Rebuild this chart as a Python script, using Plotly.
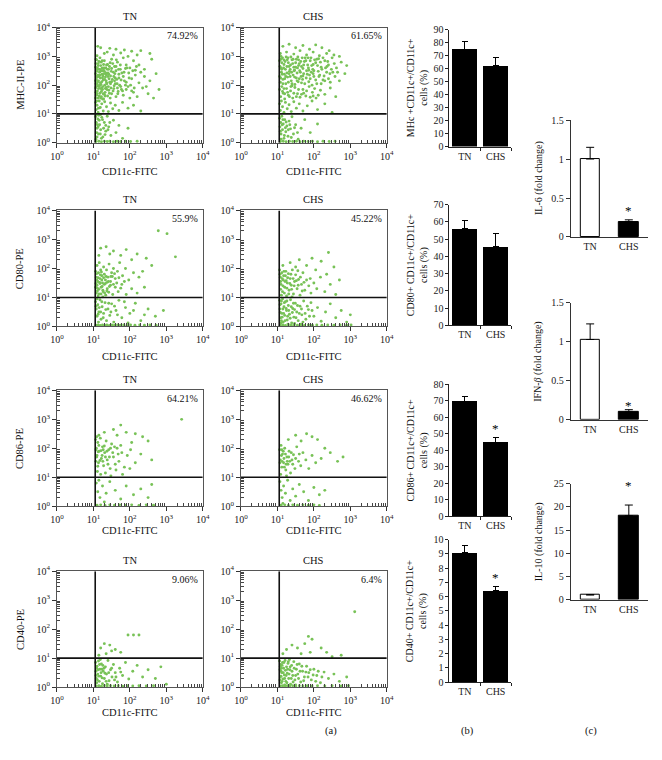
import math
import plotly.graph_objects as go

# ---------------- data ----------------
GROUPS = ["TN", "CHS"]
SC_Y_TITLES = ["MHC-II-PE", "CD80-PE", "CD86-PE", "CD40-PE"]
SC_X_TITLE = "CD11c-FITC"
PCT_TN = ["74.92%", "55.9%", "64.21%", "9.06%"]
PCT_CHS = ["61.65%", "45.22%", "46.62%", "6.4%"]
LOG_TICKS = [0, 1, 2, 3, 4]
LOG_TICKTEXT = ["10<sup>0</sup>", "10<sup>1</sup>", "10<sup>2</sup>", "10<sup>3</sup>", "10<sup>4</sup>"]
GATE_X = 1.05   # log10 units
GATE_Y = 1.0

# events (log10 CD11c-FITC, log10 marker-PE)
MHC_TN = [
    (1.12,3.35),(1.2,3.3),(1.45,3.28),(1.62,3.25),(1.85,3.22),(2.05,3.18),(2.3,3.2),(1.3,3.1),(1.55,3.05),(1.75,3.12),
    (1.95,3.0),(2.2,3.05),(2.55,3.1),(1.1,3.02),(1.38,3.15),
    (1.07,2.9),(1.13,2.75),(1.18,2.95),(1.24,2.6),(1.3,2.85),(1.36,2.7),(1.42,2.55),(1.5,2.9),(1.58,2.65),(1.66,2.8),
    (1.74,2.55),(1.82,2.95),(1.9,2.7),(2.0,2.6),(2.1,2.85),(2.25,2.7),(2.4,2.55),(2.6,2.9),(1.09,2.55),(1.2,2.68),
    (1.28,2.52),(1.46,2.78),(1.62,2.5),(1.88,2.58),(2.15,2.52),(1.15,2.82),
    (1.06,2.4),(1.08,2.2),(1.1,2.05),(1.12,2.35),(1.14,2.15),(1.17,2.45),(1.19,2.25),(1.21,2.02),(1.24,2.38),(1.27,2.18),
    (1.3,2.48),(1.33,2.28),(1.36,2.08),(1.4,2.42),(1.43,2.22),(1.47,2.32),(1.5,2.12),(1.55,2.45),(1.6,2.25),(1.65,2.05),
    (1.7,2.38),(1.76,2.18),(1.82,2.3),(1.9,2.1),(1.97,2.42),(2.05,2.22),(2.15,2.35),(2.25,2.08),(2.4,2.3),(2.55,2.15),
    (2.72,2.4),(2.8,1.85),(1.11,2.28),(1.23,2.12),(1.35,2.36),(1.58,2.15),
    (1.06,1.9),(1.09,1.65),(1.11,1.8),(1.13,1.55),(1.16,1.95),(1.18,1.72),(1.22,1.6),(1.25,1.85),(1.28,1.52),(1.32,1.75),
    (1.35,1.92),(1.39,1.62),(1.42,1.82),(1.46,1.55),(1.5,1.7),(1.56,1.88),(1.62,1.6),(1.68,1.78),(1.75,1.95),(1.82,1.65),
    (1.9,1.85),(2.0,1.55),(2.1,1.75),(2.2,1.6),(2.35,1.9),(2.5,1.7),(2.65,1.55),(1.07,1.75),(1.2,1.88),(1.3,1.68),
    (1.06,1.4),(1.08,1.15),(1.1,1.3),(1.13,1.05),(1.16,1.45),(1.19,1.22),(1.23,1.35),(1.27,1.1),(1.31,1.42),(1.36,1.25),
    (1.41,1.08),(1.47,1.38),(1.53,1.18),(1.6,1.3),(1.7,1.12),(1.8,1.4),(1.95,1.2),(2.1,1.3),(2.3,1.1),
    (1.06,0.9),(1.08,0.7),(1.1,0.5),(1.12,0.82),(1.14,0.3),(1.17,0.62),(1.2,0.45),(1.23,0.88),(1.26,0.2),(1.3,0.7),
    (1.34,0.4),(1.38,0.92),(1.42,0.55),(1.48,0.25),(1.55,0.78),(1.62,0.35),(1.7,0.6),(1.8,0.15),(1.95,0.5),(1.07,0.12),
    (1.07,0.04),(1.15,0.05),(1.22,0.03),(1.3,0.05),(1.38,0.04),(1.45,0.05),(1.55,0.03),(1.65,0.05),(1.75,0.04),(1.88,0.05),
    (2.02,0.04),(2.2,0.05),
    (1.06,2.62),(1.07,2.05),(1.09,2.88),(1.1,2.48),(1.12,1.98),(1.13,2.68),(1.15,2.3),(1.16,1.62),(1.18,2.55),(1.19,2.08),
    (1.21,2.8),(1.22,1.78),(1.24,2.5),(1.25,2.25),(1.26,1.95),(1.28,2.72),(1.29,2.4),(1.31,2.0),(1.32,1.62),(1.34,2.6),
    (1.35,2.15),(1.37,1.85),(1.38,2.55),(1.4,2.3),(1.41,1.95),(1.44,2.65),(1.45,2.1),(1.48,1.9),(1.49,2.48),(1.52,2.2),
    (1.53,2.75),(1.57,1.98),(1.59,2.4),(1.63,2.88),(1.64,2.2),(1.67,1.7),(1.69,2.55),(1.72,2.0),(1.78,2.42),(1.8,1.8),
    (1.85,2.15),(1.92,2.6),(1.95,1.95),(2.02,2.0),(2.08,2.5),(2.12,1.9),(2.18,2.65),(2.3,2.45),(2.45,1.95),(1.09,1.45),
    (1.14,1.2),(1.2,0.98),(1.25,1.52),(1.34,0.6),(1.09,0.35),(1.16,0.78),(1.22,0.15),(1.28,0.5),(1.11,0.62),(1.45,0.7),
    (1.06,2.15),(1.06,1.55),(1.07,2.75),(1.08,1.95),(1.09,2.3),(1.1,1.7),(1.11,2.6),(1.12,2.12),(1.14,1.88),(1.15,2.55),
    (1.17,2.0),(1.18,2.35),(1.2,1.55),(1.21,2.5),(1.23,1.9),(1.24,2.85),(1.26,2.32),(1.27,1.7),(1.29,2.6),(1.31,2.2),
    (1.33,1.88),(1.34,2.42),(1.37,2.05),(1.39,2.72),(1.42,2.38),(1.44,1.72),(1.47,2.05),(1.5,2.58),(1.54,1.8),(1.56,2.3),
    (1.6,2.05),(1.62,2.65),(1.66,1.9),(1.7,2.25),(1.74,2.7),(1.77,1.85),(1.84,2.45),(1.88,2.0),(1.98,2.25),(2.05,1.8),
    (1.08,0.95),(1.1,0.2),(1.13,0.55),(1.15,0.95),(1.19,0.3),(1.25,0.8),(1.32,0.28),(1.4,0.45),
]
MHC_CHS = [
    (1.15,3.35),(1.32,3.42),(1.5,3.3),(1.7,3.38),(1.88,3.25),(2.05,3.4),(2.22,3.3),(2.42,3.2),(1.25,3.15),(1.45,3.08),
    (1.62,3.2),(1.8,3.05),(1.98,3.15),(2.15,3.02),(2.35,3.1),(2.55,3.05),(1.08,3.1),(2.7,3.0),
    (1.06,2.85),(1.1,2.6),(1.14,2.95),(1.18,2.72),(1.22,2.55),(1.27,2.88),(1.32,2.65),(1.37,2.98),(1.42,2.75),(1.47,2.52),
    (1.52,2.9),(1.58,2.68),(1.64,2.82),(1.7,2.58),(1.76,2.95),(1.83,2.7),(1.9,2.85),(1.97,2.55),(2.05,2.78),(2.13,2.92),
    (2.2,2.62),(2.3,2.85),(2.4,2.7),(2.5,2.95),(2.62,2.6),(2.75,2.8),(2.9,2.68),(1.12,2.78),(1.55,2.6),(1.86,2.52),
    (1.06,2.3),(1.08,2.1),(1.11,2.45),(1.15,2.2),(1.19,2.38),(1.23,2.05),(1.28,2.28),(1.33,2.48),(1.38,2.15),(1.43,2.35),
    (1.48,2.02),(1.54,2.42),(1.6,2.22),(1.66,2.08),(1.72,2.4),(1.79,2.25),(1.86,2.12),(1.93,2.45),(2.0,2.3),(2.08,2.05),
    (2.16,2.35),(2.25,2.18),(2.35,2.45),(2.45,2.1),(2.58,2.3),(2.7,2.15),(2.85,2.4),(1.3,2.1),(1.65,2.3),(1.95,2.0),
    (1.06,1.85),(1.09,1.6),(1.12,1.95),(1.16,1.72),(1.2,1.52),(1.25,1.88),(1.3,1.65),(1.36,1.8),(1.42,1.55),(1.48,1.92),
    (1.55,1.7),(1.62,1.58),(1.7,1.85),(1.78,1.62),(1.87,1.95),(1.96,1.75),(2.06,1.55),(2.18,1.82),(2.3,1.68),(2.45,1.9),
    (2.6,1.6),(1.14,1.78),(1.4,1.98),
    (1.06,1.35),(1.08,1.12),(1.11,1.45),(1.14,1.25),(1.18,1.05),(1.22,1.4),(1.27,1.18),(1.32,1.32),(1.38,1.08),(1.45,1.42),
    (1.52,1.2),(1.6,1.35),(1.7,1.1),(1.82,1.28),(1.95,1.45),(2.1,1.15),(2.3,1.35),(2.5,1.05),
    (1.06,0.85),(1.07,0.55),(1.09,0.7),(1.1,0.3),(1.12,0.92),(1.14,0.45),(1.16,0.65),(1.18,0.15),(1.2,0.8),(1.23,0.38),
    (1.26,0.58),(1.29,0.22),(1.32,0.75),(1.36,0.48),(1.4,0.9),(1.44,0.3),(1.5,0.62),(1.57,0.12),(1.65,0.5),(1.75,0.8),
    (1.9,0.35),(2.1,0.65),
    (1.08,0.04),(1.16,0.05),(1.24,0.03),(1.33,0.05),(1.42,0.04),(1.52,0.05),(1.62,0.03),(1.72,0.05),(1.84,0.04),(1.96,0.05),
    (2.1,0.03),(2.25,0.05),(2.42,0.04),(2.58,0.05),
    (1.1,3.0),(1.18,2.88),(1.24,2.98),(1.3,2.78),(1.35,2.55),(1.4,2.88),(1.45,2.62),(1.5,2.78),(1.56,2.98),(1.6,2.75),
    (1.68,2.95),(1.72,2.7),(1.78,2.85),(1.85,2.6),(1.92,2.95),(1.98,2.72),(2.02,2.88),(2.1,2.68),(2.18,2.8),(2.25,2.95),
    (2.32,2.6),(2.38,2.82),(2.48,2.55),(1.13,2.38),(1.2,2.22),(1.26,2.42),(1.35,2.3),(1.4,2.05),(1.46,2.5),(1.52,2.25),
    (1.57,2.12),(1.63,2.45),(1.69,2.2),(1.75,2.05),(1.82,2.38),(1.9,2.22),(1.98,2.4),(2.05,2.18),(2.12,2.48),(2.2,2.05),
    (2.28,2.32),(2.4,2.22),(2.52,2.45),(1.18,1.88),(1.28,1.75),(1.33,1.6),(1.45,1.72),(1.58,1.85),(1.66,1.68),(1.8,1.8),
    (1.9,1.58),(2.02,1.88),(2.12,1.65),(1.08,0.4),(1.13,0.62),(1.19,0.25),(1.24,0.72),(1.3,0.45),(1.38,0.18),(1.47,0.52),
    (1.07,2.65),(1.09,2.25),(1.1,2.9),(1.12,2.55),(1.15,2.05),(1.17,2.6),(1.21,2.82),(1.23,2.3),(1.26,2.65),(1.29,2.95),
    (1.32,2.4),(1.36,2.7),(1.39,2.45),(1.43,2.9),(1.47,2.28),(1.5,2.62),(1.54,2.15),(1.58,2.88),(1.61,2.5),(1.66,2.65),
    (1.7,2.32),(1.74,2.82),(1.8,2.5),(1.84,2.95),(1.88,2.35),(1.94,2.68),(2.0,2.5),(2.08,2.9),(2.14,2.3),(2.22,2.55),
    (2.3,2.15),(2.36,2.65),(2.44,2.4),(2.56,2.75),(2.65,2.45),(1.2,1.7),(1.37,1.95),(1.52,1.6),(1.72,1.72),(1.98,1.62),
    (1.1,0.12),(1.15,0.8),(1.22,0.52),(1.34,0.62),(1.55,0.35),
]
CD80_TN = [
    (2.78,3.3),(3.02,3.2),(3.25,2.4),(1.2,2.7),(1.35,2.75),(1.55,2.6),(1.9,2.65),(2.2,2.5),(2.45,2.35),(1.75,2.45),
    (2.05,2.3),(1.45,2.5),(2.6,2.1),(2.35,1.9),(1.15,2.45),
    (1.06,1.9),(1.08,1.7),(1.1,2.1),(1.12,1.55),(1.14,1.85),(1.16,2.2),(1.18,1.65),(1.2,1.95),(1.23,1.75),(1.25,1.5),
    (1.28,2.05),(1.3,1.8),(1.33,1.6),(1.36,1.95),(1.4,1.7),(1.43,2.15),(1.47,1.55),(1.5,1.85),(1.55,2.0),(1.6,1.65),
    (1.66,1.9),(1.72,2.2),(1.8,1.75),(1.88,2.0),(1.97,1.6),(2.1,1.85),(2.25,1.7),(1.09,1.6),(1.22,1.88),(1.38,1.52),
    (1.52,1.72),
    (1.06,1.35),(1.08,1.15),(1.1,1.42),(1.13,1.05),(1.15,1.28),(1.18,1.48),(1.21,1.12),(1.24,1.38),(1.27,1.2),(1.3,1.45),
    (1.34,1.08),(1.38,1.3),(1.42,1.18),(1.47,1.42),(1.53,1.1),(1.6,1.35),(1.68,1.2),(1.78,1.45),(1.9,1.1),(2.05,1.3),
    (2.2,1.15),(2.4,1.35),(1.11,1.22),(1.26,1.02),
    (1.06,0.85),(1.08,0.6),(1.1,0.35),(1.12,0.75),(1.15,0.5),(1.18,0.92),(1.21,0.25),(1.24,0.68),(1.28,0.45),(1.32,0.82),
    (1.36,0.2),(1.4,0.6),(1.45,0.38),(1.5,0.78),(1.56,0.15),(1.62,0.55),(1.7,0.9),(1.78,0.3),(1.88,0.65),(2.0,0.45),
    (2.15,0.8),(2.3,0.2),(2.5,0.6),(2.7,0.35),(2.92,0.55),(1.95,0.12),(1.14,0.15),
    (1.07,0.04),(1.13,0.05),(1.19,0.03),(1.25,0.05),(1.31,0.04),(1.37,0.05),(1.44,0.03),(1.51,0.05),(1.58,0.04),(1.66,0.05),
    (1.74,0.04),(1.83,0.05),(1.92,0.03),(2.02,0.05),(2.14,0.04),(2.27,0.05),(2.4,0.04),(2.55,0.05),(2.72,0.04),
    (1.07,1.48),(1.09,1.82),(1.11,1.32),(1.13,1.68),(1.15,1.12),(1.17,1.52),(1.19,1.78),(1.21,1.35),(1.23,1.6),(1.26,1.25),
    (1.28,1.68),(1.31,1.15),(1.33,1.48),(1.35,1.72),(1.37,1.22),(1.41,1.55),(1.44,1.38),(1.48,1.72),(1.55,1.45),(1.58,1.82),
    (1.64,1.5),(1.7,1.68),(1.75,1.32),(1.85,1.55),(1.07,0.7),(1.1,0.95),(1.13,0.42),(1.16,0.65),(1.2,0.5),(1.23,0.85),
    (1.27,0.3),(1.34,0.58),(1.42,0.8),(1.48,0.5),(1.58,0.7),(1.66,0.4),(1.85,0.85),(2.1,0.55),(2.4,0.4),
]
CD80_CHS = [
    (2.4,2.55),(1.95,2.35),(2.2,2.25),(1.6,2.3),(1.35,2.2),(2.55,2.05),(1.8,2.1),(2.05,1.95),(2.35,1.8),(1.15,2.1),
    (2.7,1.6),(1.5,2.05),
    (1.06,1.95),(1.08,1.7),(1.1,1.45),(1.12,1.85),(1.14,1.2),(1.16,1.6),(1.18,1.9),(1.2,1.35),(1.22,1.75),(1.25,1.05),
    (1.27,1.5),(1.3,1.82),(1.32,1.25),(1.35,1.65),(1.38,1.42),(1.41,1.95),(1.44,1.12),(1.47,1.55),(1.5,1.78),(1.54,1.3),
    (1.58,1.62),(1.62,1.08),(1.66,1.45),(1.7,1.85),(1.75,1.25),(1.8,1.6),(1.86,1.4),(1.92,1.15),(2.0,1.5),(2.08,1.3),
    (2.18,1.7),(2.3,1.2),(2.45,1.45),(2.6,1.1),(1.09,1.28),(1.24,1.58),(1.4,1.02),(1.56,1.92),
    (1.06,0.9),(1.07,0.6),(1.09,0.3),(1.1,0.78),(1.12,0.45),(1.14,0.95),(1.16,0.15),(1.18,0.68),(1.2,0.38),(1.22,0.85),
    (1.25,0.55),(1.27,0.22),(1.3,0.72),(1.33,0.42),(1.36,0.92),(1.39,0.12),(1.42,0.62),(1.45,0.32),(1.49,0.8),(1.53,0.5),
    (1.57,0.2),(1.62,0.7),(1.67,0.4),(1.72,0.88),(1.78,0.25),(1.85,0.58),(1.92,0.82),(2.0,0.35),(2.1,0.65),(2.2,0.18),
    (2.32,0.5),(2.45,0.78),(2.6,0.3),(2.75,0.55),(2.9,0.15),(3.0,0.4),(1.11,0.2),(1.29,0.08),(1.47,0.1),(1.65,0.08),
    (1.08,0.04),(1.15,0.05),(1.22,0.03),(1.3,0.05),(1.38,0.04),(1.46,0.05),(1.55,0.04),(1.64,0.05),(1.74,0.03),(1.85,0.05),
    (1.96,0.04),(2.08,0.05),(2.22,0.04),(2.38,0.05),(2.55,0.04),(2.72,0.05),(2.9,0.04),(3.02,0.05),
    (1.07,1.8),(1.09,1.55),(1.11,1.08),(1.13,1.65),(1.15,1.4),(1.17,1.75),(1.19,1.15),(1.21,1.55),(1.23,1.9),(1.26,1.32),
    (1.28,1.68),(1.31,1.12),(1.34,1.48),(1.37,1.8),(1.39,1.28),(1.43,1.65),(1.46,1.4),(1.52,1.58),(1.57,1.42),(1.63,1.7),
    (1.68,1.22),(1.73,1.52),(1.9,1.65),(1.07,0.75),(1.08,0.48),(1.1,0.12),(1.11,0.88),(1.13,0.32),(1.15,0.6),(1.17,0.45),
    (1.19,0.82),(1.21,0.2),(1.24,0.62),(1.26,0.88),(1.28,0.35),(1.31,0.55),(1.35,0.28),(1.38,0.68),(1.41,0.48),(1.44,0.8),
    (1.47,0.58),(1.51,0.3),(1.55,0.72),(1.6,0.45),(1.66,0.6),(1.7,0.15),(1.76,0.45),(1.82,0.7),(1.88,0.35),(1.95,0.55),
]
CD86_TN = [
    (3.42,3.0),(1.75,2.8),(1.55,2.65),(1.9,2.55),(2.15,2.5),(2.35,2.4),(2.5,2.25),(2.6,1.6),(1.3,2.55),(1.15,2.45),
    (1.65,2.45),(2.05,2.2),
    (1.06,2.3),(1.08,2.0),(1.1,1.75),(1.12,2.2),(1.14,1.5),(1.16,1.9),(1.19,2.35),(1.22,1.65),(1.25,2.05),(1.28,1.4),
    (1.31,1.85),(1.35,2.25),(1.38,1.6),(1.42,1.95),(1.46,1.3),(1.5,2.15),(1.55,1.7),(1.6,1.45),(1.65,2.0),(1.7,1.55),
    (1.78,1.85),(1.85,1.35),(1.93,1.75),(2.02,1.95),(2.15,1.5),(2.3,1.8),(1.07,1.55),(1.11,1.2),(1.2,1.1),(1.33,1.15),
    (1.48,1.05),(1.62,1.25),(1.8,1.1),(2.0,1.3),(1.09,2.4),(1.27,1.95),(1.4,1.45),
    (1.08,0.8),(1.12,0.5),(1.18,0.3),(1.25,0.7),(1.35,0.45),(1.45,0.85),(1.6,0.55),(1.75,0.25),(1.9,0.7),(2.1,0.4),
    (2.3,0.6),(2.5,0.3),(2.6,0.75),(1.15,0.9),(1.3,0.15),
    (1.1,0.04),(1.2,0.05),(1.32,0.03),(1.45,0.05),(1.58,0.04),(1.72,0.05),(1.88,0.04),(2.05,0.05),(2.25,0.03),(2.45,0.05),
    (2.65,0.04),
    (1.07,1.95),(1.09,1.7),(1.13,1.88),(1.15,2.1),(1.18,1.58),(1.21,1.92),(1.24,1.75),(1.3,2.08),(1.33,1.7),(1.37,1.9),
    (1.44,1.7),(1.47,2.0),(1.53,1.85),(1.58,2.05),(1.68,1.8),(1.75,2.1),(1.12,1.38),(1.26,1.55),
]
CD86_CHS = [
    (1.8,2.5),(1.95,2.4),(2.1,2.3),(1.5,2.45),(1.3,2.3),(2.3,2.0),(2.45,1.85),(2.8,1.7),(2.65,1.55),(2.2,1.65),
    (1.65,2.25),
    (1.06,1.95),(1.08,1.6),(1.1,2.1),(1.12,1.35),(1.14,1.8),(1.17,1.5),(1.2,2.0),(1.23,1.25),(1.26,1.7),(1.29,1.45),
    (1.32,1.9),(1.36,1.15),(1.4,1.6),(1.44,1.78),(1.48,1.3),(1.53,2.05),(1.58,1.55),(1.64,1.4),(1.7,1.85),(1.78,1.6),
    (1.86,1.3),(1.95,1.75),(2.05,1.5),(1.09,1.1),(1.18,1.65),(1.34,1.55),(1.25,1.05),
    (1.07,0.85),(1.1,0.55),(1.13,0.3),(1.17,0.7),(1.22,0.45),(1.28,0.9),(1.35,0.2),(1.42,0.6),(1.5,0.35),(1.6,0.75),
    (1.72,0.5),(1.85,0.2),(2.0,0.65),(2.15,0.4),(2.3,0.55),(1.15,0.1),
    (1.1,0.04),(1.2,0.05),(1.3,0.03),(1.42,0.05),(1.55,0.04),(1.7,0.05),(1.85,0.04),(2.0,0.05),(2.15,0.03),
    (1.07,1.5),(1.11,1.75),(1.13,1.55),(1.16,1.9),(1.19,1.35),(1.22,1.8),(1.27,1.55),(1.31,1.7),(1.38,1.85),(1.42,1.45),
    (1.5,1.65),(1.6,1.8),(1.12,1.95),(1.24,1.45),
]
CD40_TN = [
    (1.95,1.8),(2.1,1.8),(2.25,1.8),(1.3,1.5),(1.45,1.45),(1.2,1.35),(1.6,1.3),(1.75,1.2),(1.35,1.15),(1.15,1.1),
    (1.5,1.25),
    (1.06,0.85),(1.07,0.55),(1.08,0.3),(1.1,0.72),(1.12,0.45),(1.14,0.9),(1.16,0.2),(1.18,0.62),(1.2,0.38),(1.22,0.8),
    (1.25,0.12),(1.27,0.55),(1.3,0.3),(1.33,0.7),(1.36,0.45),(1.4,0.92),(1.43,0.22),(1.47,0.6),(1.51,0.35),(1.55,0.78),
    (1.6,0.5),(1.66,0.18),(1.72,0.65),(1.8,0.4),(1.88,0.85),(1.97,0.28),(2.08,0.55),(2.2,0.75),(2.35,0.35),(2.5,0.6),
    (2.7,0.3),(2.85,0.7),(3.0,0.1),(1.09,0.15),(1.19,0.95),(1.29,0.65),(1.38,0.1),(1.58,0.25),
    (1.08,0.04),(1.15,0.05),(1.22,0.03),(1.3,0.05),(1.38,0.04),(1.47,0.05),(1.57,0.04),(1.68,0.05),(1.8,0.03),(1.93,0.05),
    (2.08,0.04),(2.25,0.05),(2.45,0.04),(2.65,0.05),
    (1.07,0.4),(1.09,0.65),(1.11,0.25),(1.13,0.6),(1.15,0.38),(1.17,0.78),(1.21,0.5),(1.24,0.32),(1.26,0.75),(1.32,0.48),
    (1.35,0.2),(1.42,0.5),(1.5,0.65),(1.62,0.35),(1.75,0.52),(1.23,0.62),
]
CD40_CHS = [
    (3.12,2.6),(1.85,1.75),(1.95,1.65),(1.75,1.5),(1.4,1.45),(1.55,1.35),(1.25,1.3),(2.2,1.35),(2.35,1.2),(1.65,1.15),
    (1.9,1.2),(2.5,1.05),(2.75,1.1),(1.15,1.15),
    (1.06,0.9),(1.07,0.6),(1.08,0.35),(1.09,0.78),(1.11,0.15),(1.12,0.5),(1.14,0.85),(1.15,0.28),(1.17,0.65),(1.19,0.42),
    (1.21,0.92),(1.23,0.2),(1.25,0.7),(1.27,0.48),(1.29,0.82),(1.31,0.3),(1.34,0.6),(1.36,0.1),(1.39,0.75),(1.42,0.4),
    (1.45,0.88),(1.48,0.25),(1.52,0.62),(1.56,0.45),(1.6,0.8),(1.64,0.18),(1.69,0.55),(1.74,0.35),(1.8,0.72),(1.86,0.5),
    (1.93,0.25),(2.0,0.62),(2.08,0.4),(2.18,0.15),(2.28,0.52),(2.4,0.3),(2.55,0.45),(2.7,0.2),(2.9,0.35),(1.1,0.55),
    (1.2,0.08),(1.33,0.95),(1.5,0.08),
    (1.08,0.04),(1.14,0.05),(1.2,0.03),(1.27,0.05),(1.34,0.04),(1.42,0.05),(1.5,0.03),(1.6,0.05),(1.7,0.04),(1.82,0.05),
    (1.95,0.04),(2.1,0.05),(2.3,0.04),(2.5,0.05),(2.75,0.04),(2.95,0.05),
    (1.07,0.25),(1.08,0.72),(1.1,0.38),(1.11,0.65),(1.13,0.2),(1.13,0.75),(1.16,0.5),(1.18,0.85),(1.2,0.3),(1.22,0.58),
    (1.24,0.4),(1.26,0.15),(1.28,0.62),(1.3,0.88),(1.32,0.45),(1.35,0.7),(1.38,0.3),(1.4,0.55),(1.43,0.18),(1.46,0.65),
    (1.5,0.4),(1.54,0.78),(1.58,0.3),(1.62,0.55),(1.67,0.72),(1.72,0.22),(1.78,0.52),(1.84,0.35),(1.9,0.6),(1.98,0.42),
    (2.05,0.2),(2.12,0.55),(2.22,0.35),
]
SC_DATA = [(MHC_TN, MHC_CHS), (CD80_TN, CD80_CHS), (CD86_TN, CD86_CHS), (CD40_TN, CD40_CHS)]

# (b) percentage of double-positive cells
B_TITLES = ["MHc +CD11c+/CD11c+<br>cells (%)", "CD80+ CD11c+/CD11c+<br>cells (%)",
            "CD86+ CD11c+/CD11c+<br>cells (%)", "CD40+ CD11c+/CD11c+<br>cells (%)"]
B_TN = [75.0, 56.0, 69.5, 9.1]
B_CHS = [62.0, 45.5, 44.5, 6.45]
B_ERR_TN = [5.5, 5.0, 3.0, 0.5]
B_ERR_CHS = [6.5, 7.5, 3.0, 0.25]
B_SIG = [False, False, True, True]
B_YMAX = [90, 70, 80, 10]
B_DTICK = [10, 10, 10, 1]

# (c) cytokine fold change
C_TITLES = ["IL-6 (fold change)", "IFN-<i>β</i> (fold change)", "IL-10 (fold change)"]
C_TN = [1.0, 1.03, 1.0]
C_CHS = [0.19, 0.1, 18.1]
C_ERR_TN = [0.15, 0.2, 0.1]
C_ERR_CHS = [0.03, 0.03, 2.3]
C_YMAX = [1.5, 1.5, 25]
C_DTICK = [0.5, 0.5, 5]

PANEL_LABELS = ["(a)", "(b)", "(c)"]

# ---------------- layout geometry (pixels) ----------------
W, H = 662, 760
FONT = "Liberation Serif, Times New Roman, serif"
DOT = "#78c257"
SC_COLS = [(51, 200), (239, 388)]
SC_ROWS = [(21, 138), (207, 325), (390, 508), (574, 692)]
SC_XT_OFF = [29, 31, 25, 26]
B_COL = (452, 515)
B_ROWS = [(23, 142), (201, 324), (384, 518), (542, 687)]
C_COL = (576, 655)
C_ROWS = [(115, 234), (301, 420), (485, 603)]
C_STAR_SHIFT = [0, -5, 10]


def fx(p):
    return p / W


def fy(p):
    return 1 - p / H


fig = go.Figure()
layout = {}
annotations = []
shapes = []
counter = [0]

minor_log = [d + math.log10(k) for d in range(4) for k in range(2, 10)]
tickfont = dict(family=FONT, size=10, color="#222")


def new_axes(xpx, ypx, xcfg, ycfg):
    counter[0] += 1
    i = counter[0]
    s = "" if i == 1 else str(i)
    layout["xaxis" + s] = dict(domain=[fx(xpx[0]), fx(xpx[1])], anchor="y" + s, **xcfg)
    layout["yaxis" + s] = dict(domain=[fy(ypx[1]), fy(ypx[0])], anchor="x" + s, **ycfg)
    return "x" + s, "y" + s


def ann(text, x, y, size=10.5, angle=0, xanchor="center", yanchor="middle", **kw):
    annotations.append(dict(text=text, x=x, y=y, xref="paper", yref="paper", showarrow=False,
                            textangle=angle, xanchor=xanchor, yanchor=yanchor,
                            font=dict(family=FONT, size=size, color="#111"), **kw))


log_axis = dict(range=[0, 4], tickmode="array", tickvals=LOG_TICKS, ticktext=LOG_TICKTEXT,
                ticks="outside", ticklen=4, tickcolor="#333", showline=True, linecolor="#555",
                linewidth=1, mirror=True, showgrid=False, zeroline=False, tickfont=tickfont,
                minor=dict(tickmode="array", tickvals=minor_log, ticks="inside", ticklen=3,
                           tickcolor="#444", showgrid=False))

# ---- (a) dot plots ----
for r, (top, bot) in enumerate(SC_ROWS):
    for c, (left, right) in enumerate(SC_COLS):
        pts = SC_DATA[r][c]
        xa, ya = new_axes((left, right), (top, bot), dict(log_axis), dict(log_axis))
        fig.add_trace(go.Scatter(x=[p[0] for p in pts], y=[p[1] for p in pts], mode="markers",
                                 marker=dict(size=2.9, color=DOT, line=dict(width=0)),
                                 xaxis=xa, yaxis=ya, showlegend=False, cliponaxis=False,
                                 hoverinfo="skip"))
        shapes.append(dict(type="line", xref=xa, yref=ya, x0=GATE_X, x1=GATE_X, y0=0, y1=4,
                           line=dict(color="#111", width=1.6)))
        shapes.append(dict(type="line", xref=xa, yref=ya, x0=0, x1=4, y0=GATE_Y, y1=GATE_Y,
                           line=dict(color="#111", width=1.6)))
        ann(GROUPS[c], fx((left + right) / 2), fy(top - 11))
        pct = PCT_TN[r] if c == 0 else PCT_CHS[r]
        ann(pct, fx(right - 3), fy(top + 8), size=10, xanchor="right")
        ann(SC_X_TITLE, fx((left + right) / 2), fy(bot + SC_XT_OFF[r]))
    ann(SC_Y_TITLES[r], fx(13), fy((top + bot) / 2), angle=-90)

# ---- (b) bar charts ----
for r, (top, bot) in enumerate(B_ROWS):
    xa, ya = new_axes(B_COL, (top, bot),
                      dict(range=[-0.5, 1.5], tickmode="array", tickvals=[0, 1], ticktext=GROUPS,
                           ticks="", showline=True, linecolor="#222", linewidth=1, showgrid=False,
                           zeroline=False, tickfont=tickfont,
                           minor=dict(tickmode="array", tickvals=[0.5, 1.5], ticks="outside",
                                      ticklen=3, tickcolor="#222")),
                      dict(range=[0, B_YMAX[r]], dtick=B_DTICK[r], ticks="outside", ticklen=3,
                           tickcolor="#222", showline=True, linecolor="#222", linewidth=1,
                           showgrid=False, zeroline=False, tickfont=tickfont))
    fig.add_trace(go.Bar(x=[0, 1], y=[B_TN[r], B_CHS[r]], width=0.82,
                         marker=dict(color="#000", line=dict(width=0)),
                         error_y=dict(type="data", symmetric=False, array=[B_ERR_TN[r], B_ERR_CHS[r]],
                                      arrayminus=[0, 0], color="#000", thickness=1, width=3),
                         xaxis=xa, yaxis=ya, showlegend=False, hoverinfo="skip"))
    if B_SIG[r]:
        annotations.append(dict(text="*", x=1, y=B_CHS[r] + B_ERR_CHS[r], xref=xa, yref=ya,
                                showarrow=False, yanchor="bottom", yshift=0,
                                font=dict(family=FONT, size=13, color="#000")))
    ann(B_TITLES[r], fx(419), fy((top + bot) / 2), size=10, angle=-90)

# ---- (c) cytokines ----
for r, (top, bot) in enumerate(C_ROWS):
    xa, ya = new_axes(C_COL, (top, bot),
                      dict(range=[-0.5, 1.5], tickmode="array", tickvals=[0, 1], ticktext=GROUPS,
                           ticks="", showline=True, linecolor="#333", linewidth=1.3, showgrid=False,
                           zeroline=False, tickfont=tickfont),
                      dict(range=[0, C_YMAX[r]], dtick=C_DTICK[r], ticks="outside", ticklen=4,
                           tickcolor="#333", showline=True, linecolor="#333", linewidth=1.3,
                           showgrid=False, zeroline=False, tickfont=tickfont))
    fig.add_trace(go.Bar(x=[0, 1], y=[C_TN[r], C_CHS[r]], width=0.5,
                         marker=dict(color=["#fff", "#000"], line=dict(color="#000", width=1)),
                         error_y=dict(type="data", symmetric=False, array=[C_ERR_TN[r], C_ERR_CHS[r]],
                                      arrayminus=[0, 0], color="#000", thickness=1, width=4),
                         xaxis=xa, yaxis=ya, showlegend=False, hoverinfo="skip"))
    annotations.append(dict(text="*", x=1, y=C_CHS[r] + C_ERR_CHS[r], xref=xa, yref=ya,
                            showarrow=False, yanchor="bottom", yshift=C_STAR_SHIFT[r],
                            font=dict(family=FONT, size=13, color="#000")))
    ann(C_TITLES[r], fx(543), fy((top + bot) / 2), size=10, angle=-90)

# ---- panel labels ----
for lab, xp in zip(PANEL_LABELS, [331, 470, 597]):
    ann(lab, fx(xp), fy(737), size=10.5)

fig.update_layout(width=W, height=H, margin=dict(l=0, r=0, t=0, b=0),
                  paper_bgcolor="#fff", plot_bgcolor="#fff", showlegend=False,
                  bargap=0, annotations=annotations, shapes=shapes,
                  font=dict(family=FONT, size=10, color="#111"), **layout)
fig.write_html("out.html", config={"displayModeBar": False},
               post_script="document.body.style.margin='0px';")
